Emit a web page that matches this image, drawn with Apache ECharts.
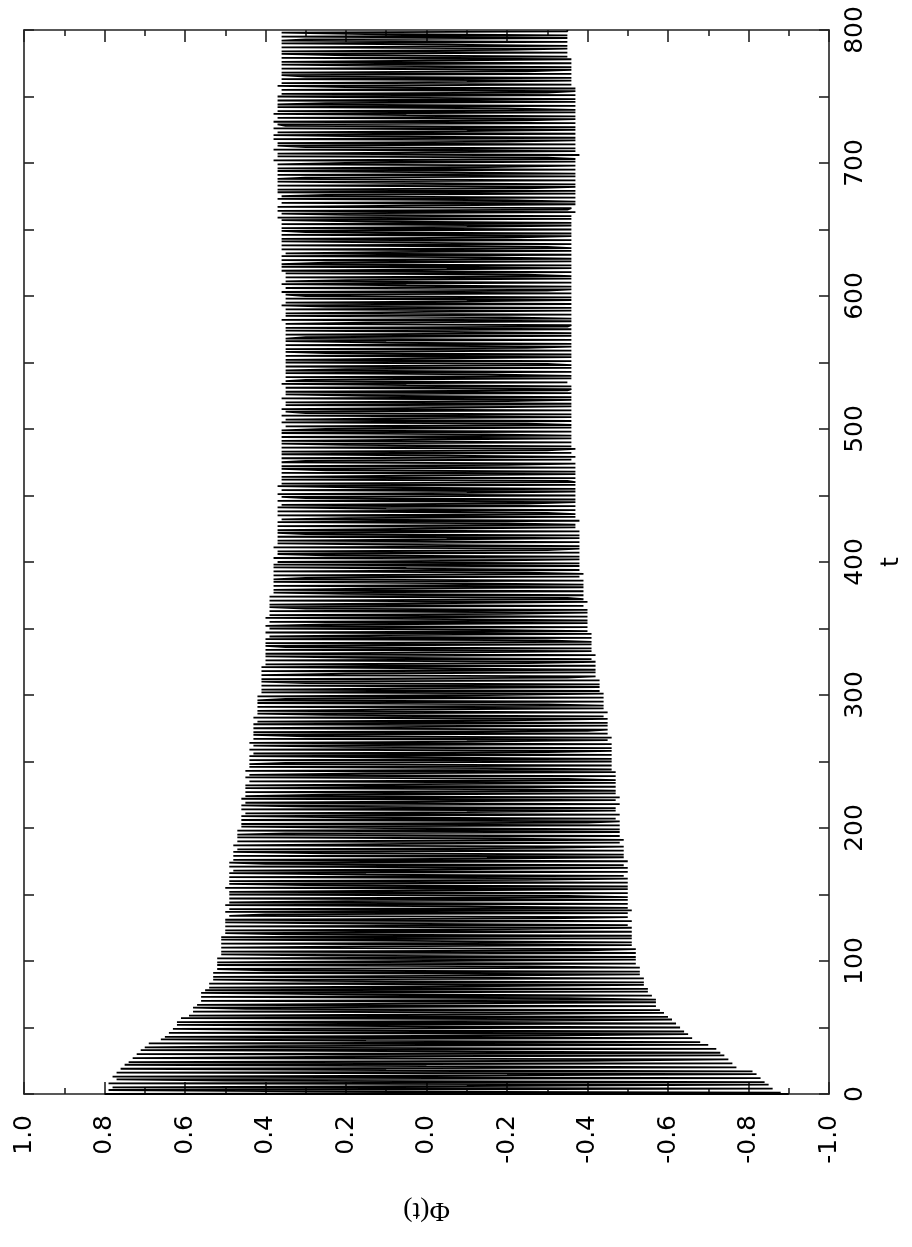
<!DOCTYPE html>
<html>
<head>
<meta charset="utf-8">
<script src="https://cdn.jsdelivr.net/npm/echarts@6/dist/echarts.min.js"></script>
<style>
html,body{margin:0;padding:0;background:#fff;}
#chart{width:912px;height:1247px;}
</style>
</head>
<body>
<div id="chart"></div>
<script>
// sampling step in t
const tStep = 1;
// Phi(t) in hundredths, at t = 0, 1, 2, ..., 800 (20 values per line)
const phiHundredths = [
 -90,80,-88,30,79,-86,78,-10,-85,79,-84,50,77,-83,78,-20,-82,77,-81,10,
 76,-77,0,75,-76,74,-40,-75,73,20,-74,72,-73,-5,71,-72,70,40,-70,69,
 -68,15,66,-66,65,-30,-65,64,-64,35,63,-63,10,62,-62,62,-25,-61,61,-60,
 59,-20,-59,58,-58,45,58,-57,57,5,-57,56,-57,-35,56,-56,20,56,-55,55,
 -55,54,-10,-54,54,-54,30,53,-54,53,-15,-53,53,-53,40,52,-53,-25,52,-52,
 52,0,-52,52,-52,25,51,-52,51,-40,-52,51,15,-51,51,-51,-5,51,-51,51,
 -51,35,50,-51,50,-20,-51,50,-50,10,50,-51,50,-30,-50,49,40,-50,50,-51,
 49,-50,-10,50,-50,49,20,-50,49,-50,-35,49,-50,49,0,-50,50,-50,30,49,
 -50,49,-25,-50,49,-49,15,49,-50,48,-5,-50,49,-49,40,49,-50,48,-15,-49,
 48,-49,25,48,-49,47,-30,-49,48,5,-48,47,-49,-20,47,-48,47,35,-48,47,
 -48,10,46,-48,46,-40,-48,46,-47,20,46,-48,45,-10,-47,46,-47,30,46,-48,
 45,-5,-47,46,-48,45,25,-47,45,-47,-25,45,-47,45,0,-47,44,-47,-35,45,
 -47,44,15,-47,45,-46,-15,44,-46,44,35,-46,44,-46,5,44,-46,43,-30,-46,
 44,-46,20,43,-46,44,-10,-45,43,-46,30,43,-45,43,-40,-45,43,0,-45,43,
 -45,42,-20,-45,43,-44,25,42,-45,42,10,-44,42,-44,-30,42,-44,42,35,-44,
 42,-15,-44,41,-43,41,5,-43,41,-43,30,41,-43,41,-35,-42,41,20,-42,41,
 -42,0,41,-42,40,-25,-42,40,-41,15,40,-42,40,-10,-41,40,-41,35,40,-41,
 40,-41,-30,40,-41,39,10,-41,40,-40,-15,39,-40,40,25,-40,39,-40,-5,40,
 -40,39,-20,-40,39,-40,30,39,-39,39,0,-40,39,-39,-35,39,-39,20,38,-39,
 38,15,-39,38,-39,-10,38,-39,38,30,-38,38,-39,-25,38,-38,5,38,-38,38,
 -38,37,-15,-38,38,-38,25,37,-38,37,-30,-38,38,-38,10,37,-38,37,-5,-38,
 37,-38,30,37,-38,37,0,-37,37,-37,-20,37,-38,36,20,-37,37,-37,-30,37,
 -37,10,37,-37,36,-25,-37,37,-37,30,36,-37,37,-10,-37,36,-37,15,37,-37,
 36,-37,-35,36,-37,36,5,-37,36,-37,25,36,-37,36,-20,-37,36,30,-36,36,
 -37,-5,36,-36,36,-30,-37,36,-36,20,36,-36,36,0,-36,36,-36,-15,36,-36,
 36,25,-36,35,-36,-25,36,-36,35,10,-36,36,-36,30,35,-36,36,-10,-36,35,
 -36,35,-20,-36,36,-36,15,35,-36,35,-35,-36,35,-36,5,36,-35,35,30,-36,
 35,-36,-15,35,-36,35,20,-36,35,-36,-30,35,-36,35,0,-36,35,-36,25,35,
 -36,35,-25,-36,35,-36,10,35,-36,35,30,-36,35,-36,-5,35,-36,35,-35,-36,
 35,15,-36,36,-36,-20,35,-36,35,0,-36,35,-36,25,36,-36,35,-10,-36,35,
 -36,30,35,-36,36,-30,-36,35,-36,5,36,-36,35,20,-36,35,-36,-25,35,-36,
 36,-5,-36,36,-36,36,25,-36,36,-36,-15,36,-36,35,10,-36,36,-36,-30,36,
 -36,0,36,-36,36,-20,-36,36,-36,30,36,-36,36,-10,-36,36,-36,15,36,-36,
 37,-36,20,36,-37,37,-35,-36,37,5,-37,36,-37,-20,37,-37,36,25,-37,37,
 -37,37,-25,-37,37,-37,10,37,-37,37,30,-37,37,-37,-5,37,-37,37,-15,-37,
 37,20,-37,38,-37,-30,37,-38,37,0,-37,38,-37,30,37,-37,37,-20,-37,38,
 -37,15,38,-37,37,-10,-37,38,-37,35,37,-37,38,-25,-37,37,-37,5,38,-37,
 37,-37,-20,37,-37,37,25,-37,37,-37,0,37,-37,36,-30,-37,36,-37,20,37,
 -36,36,-10,-36,36,-36,30,36,-36,36,-25,-36,36,-36,10,36,-36,36,0,-36,
 36,-35,20,36,-35,36,-20,-35,36,-35,-5,36,-35,36,30,-35,36,-35,15,36,
 -35
];
// axis ranges / ticks
const phiMin = -1.0, phiMax = 1.0, phiInterval = 0.2;
const tMin = 0, tMax = 800, tInterval = 100;
const phiName = 'Φ(t)';
const tName = 't';

const seriesData = phiHundredths.map((v, i) => [v / 100, i * tStep]);

const chart = echarts.init(document.getElementById('chart'), null, {renderer: 'canvas'});
const font = 'DejaVu Sans';
const frameLine = {show: true, onZero: false, lineStyle: {color: '#222', width: 1.6}};
const majorTick = (len) => ({show: true, inside: true, length: len, lineStyle: {color: '#222', width: 1.6}});
const minorTick = (len) => ({show: true, splitNumber: 2, length: len, lineStyle: {color: '#222', width: 1.6}});

chart.setOption({
  animation: false,
  backgroundColor: '#fff',
  grid: {left: 24, right: 79, top: 30, bottom: 153, containLabel: false},
  xAxis: [
    {
      type: 'value', min: phiMin, max: phiMax, interval: phiInterval, inverse: true,
      position: 'bottom',
      axisLine: frameLine, axisTick: majorTick(12), minorTick: minorTick(6),
      splitLine: {show: false},
      axisLabel: {
        rotate: 90, margin: 21, color: '#000', fontFamily: font, fontSize: 25,
        formatter: v => (Math.abs(v) < 1e-9 ? 0 : v).toFixed(1)
      },
      name: phiName, nameLocation: 'middle', nameRotate: 180, nameGap: 102,
      nameTextStyle: {color: '#000', fontFamily: 'Liberation Serif', fontSize: 28}
    },
    {
      type: 'value', min: phiMin, max: phiMax, interval: phiInterval, inverse: true,
      position: 'top',
      axisLine: frameLine, axisTick: majorTick(12), minorTick: minorTick(6),
      splitLine: {show: false}, axisLabel: {show: false}
    }
  ],
  yAxis: [
    {
      type: 'value', min: tMin, max: tMax, interval: tInterval,
      position: 'right',
      axisLine: frameLine, axisTick: majorTick(10), minorTick: minorTick(10),
      splitLine: {show: false},
      axisLabel: {rotate: 90, margin: 14, color: '#000', fontFamily: font, fontSize: 25},
      name: tName, nameLocation: 'middle', nameRotate: 90, nameGap: 50,
      nameTextStyle: {color: '#000', fontFamily: font, fontSize: 25}
    },
    {
      type: 'value', min: tMin, max: tMax, interval: tInterval,
      position: 'left',
      axisLine: frameLine, axisTick: majorTick(10), minorTick: minorTick(10),
      splitLine: {show: false}, axisLabel: {show: false}
    }
  ],
  series: [{
    type: 'line',
    xAxisIndex: 0, yAxisIndex: 0,
    data: seriesData,
    step: 'end',
    showSymbol: false,
    symbol: 'none',
    lineStyle: {color: '#000', width: 1.8},
    z: 1
  }]
});
</script>
</body>
</html>
